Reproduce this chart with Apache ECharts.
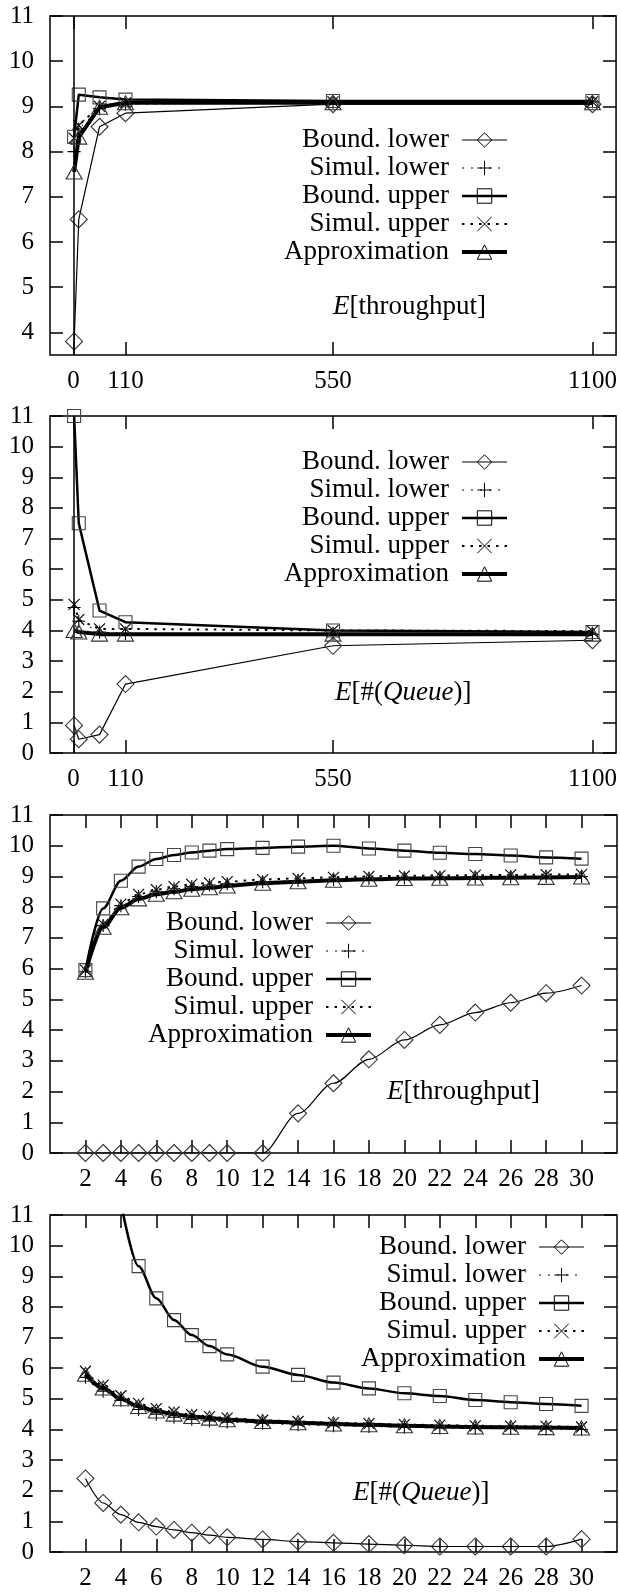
<!DOCTYPE html>
<html>
<head>
<meta charset="utf-8">
<script src="https://cdn.jsdelivr.net/npm/echarts@6/dist/echarts.min.js"></script>
<style>
  html, body { margin: 0; background: #fff; }
  #chart { width: 620px; height: 1595px; }
</style>
</head>
<body>
<div id="chart"></div>
<script>
var names = ['Bound. lower', 'Simul. lower', 'Bound. upper', 'Simul. upper', 'Approximation'];

// x values / ticks
var xBig = [1.1, 11, 55, 110, 550, 1100];
var xBigTicks = [0, 110, 550, 1100];
var xSmall = [2, 3, 4, 5, 6, 7, 8, 9, 10, 12, 14, 16, 18, 20, 22, 24, 26, 28, 30];
var xSmallTicks = [2, 4, 6, 8, 10, 12, 14, 16, 18, 20, 22, 24, 26, 28, 30];
var yTicksThr = [4, 5, 6, 7, 8, 9, 10, 11];
var yTicksAll = [0, 1, 2, 3, 4, 5, 6, 7, 8, 9, 10, 11];

// panel 1: E[throughput], big x
var thrBoundLow1 = [3.8, 6.5, 8.55, 8.85, 9.05, 9.05];
var thrSimLow1 = [8.0, 8.5, 8.95, 9.05, 9.08, 9.1];
var thrBoundUp1 = [8.33, 9.26, 9.2, 9.15, 9.12, 9.12];
var thrSimUp1 = [8.3, 8.58, 9.0, 9.08, 9.1, 9.1];
var thrApprox1 = [7.55, 8.32, 8.98, 9.08, 9.08, 9.08];

// panel 2: E[#(Queue)], big x
var qBoundLow2 = [0.9, 0.45, 0.6, 2.25, 3.5, 3.68];
var qSimLow2 = [4.75, 4.3, 3.95, 3.9, 3.88, 3.88];
var qBoundUp2 = [11.0, 7.5, 4.65, 4.27, 4.0, 3.95];
var qSimUp2 = [4.85, 4.35, 4.05, 4.05, 4.0, 3.98];
var qApprox2 = [4.0, 3.95, 3.88, 3.88, 3.88, 3.88];

// panel 3: E[throughput], small x
var thrBoundLow3 = [0, 0, 0, 0, 0, 0, 0, 0, 0, 0, 1.29, 2.27, 3.05, 3.68, 4.17, 4.57, 4.89, 5.2, 5.45];
var thrSimLow3 = [5.9, 7.4, 8.05, 8.35, 8.5, 8.6, 8.67, 8.72, 8.76, 8.83, 8.87, 8.9, 8.93, 8.95, 8.96, 8.97, 8.98, 8.99, 9.0];
var thrBoundUp3 = [5.95, 7.96, 8.86, 9.32, 9.57, 9.7, 9.78, 9.84, 9.89, 9.93, 9.97, 10.0, 9.91, 9.84, 9.77, 9.73, 9.68, 9.62, 9.58];
var thrSimUp3 = [5.95, 7.45, 8.1, 8.42, 8.57, 8.67, 8.74, 8.79, 8.83, 8.9, 8.94, 8.97, 9.0, 9.02, 9.03, 9.04, 9.05, 9.06, 9.07];
var thrApprox3 = [5.88, 7.35, 7.98, 8.27, 8.42, 8.5, 8.58, 8.63, 8.69, 8.78, 8.83, 8.88, 8.91, 8.93, 8.94, 8.95, 8.96, 8.97, 8.98];

// panel 4: E[#(Queue)], small x
var qBoundLow4 = [2.4, 1.6, 1.22, 0.97, 0.83, 0.72, 0.63, 0.55, 0.48, 0.41, 0.34, 0.3, 0.26, 0.22, 0.18, 0.18, 0.18, 0.18, 0.42];
var qSimLow4 = [5.7, 5.25, 4.95, 4.65, 4.5, 4.4, 4.33, 4.28, 4.24, 4.2, 4.15, 4.12, 4.1, 4.07, 4.05, 4.04, 4.03, 4.02, 4.0];
var qBoundUp4 = [null, null, 11.4, 9.33, 8.28, 7.57, 7.08, 6.72, 6.45, 6.05, 5.78, 5.53, 5.34, 5.18, 5.09, 4.96, 4.89, 4.83, 4.77];
var qSimUp4 = [5.9, 5.45, 5.1, 4.85, 4.68, 4.57, 4.48, 4.42, 4.37, 4.3, 4.26, 4.22, 4.19, 4.16, 4.14, 4.12, 4.11, 4.1, 4.08];
var qApprox4 = [5.8, 5.35, 5.0, 4.75, 4.6, 4.5, 4.42, 4.37, 4.32, 4.26, 4.22, 4.18, 4.15, 4.12, 4.1, 4.08, 4.07, 4.06, 4.05];

var SERIF = '"Liberation Serif", "DejaVu Serif", serif';

var panels = [
  { x: xBig, ys: [thrBoundLow1, thrSimLow1, thrBoundUp1, thrSimUp1, thrApprox1],
    xMin: -50, xMax: 1150, xTicks: xBigTicks, yMin: 3.5, yTicks: yTicksThr,
    top: 16, height: 339, legendRight: 111, legendTop: 126,
    label: '{i|E}[throughput]', labelLeft: 333, labelTop: 293, zero: true, smooth: false },
  { x: xBig, ys: [qBoundLow2, qSimLow2, qBoundUp2, qSimUp2, qApprox2],
    xMin: -50, xMax: 1150, xTicks: xBigTicks, yMin: 0, yTicks: yTicksAll,
    top: 416, height: 337, legendRight: 111, legendTop: 448,
    label: '{i|E}[#({i|Queue})]', labelLeft: 335, labelTop: 679, zero: true, smooth: false },
  { x: xSmall, ys: [thrBoundLow3, thrSimLow3, thrBoundUp3, thrSimUp3, thrApprox3],
    xMin: 0, xMax: 32, xTicks: xSmallTicks, yMin: 0, yTicks: yTicksAll,
    top: 815, height: 338, legendRight: 247, legendTop: 909,
    label: '{i|E}[throughput]', labelLeft: 387, labelTop: 1078, zero: false, smooth: true },
  { x: xSmall, ys: [qBoundLow4, qSimLow4, qBoundUp4, qSimUp4, qApprox4],
    xMin: 0, xMax: 32, xTicks: xSmallTicks, yMin: 0, yTicks: yTicksAll,
    top: 1215, height: 337, legendRight: 34, legendTop: 1233,
    label: '{i|E}[#({i|Queue})]', labelLeft: 353, labelTop: 1479, zero: false, smooth: true }
];

var looks = [
  { symbol: 'path://M0,-1L1,0L0,1L-1,0Z', size: 17, width: 1.2, type: 'solid', sc: '#333' },
  { symbol: 'path://M0,-1L0,1M-1,0L1,0', size: 13, width: 1, type: [2, 7], sc: '#000' },
  { symbol: 'path://M-1,-1L1,-1L1,1L-1,1Z', size: 13, width: 2.5, type: 'solid', sc: '#444' },
  { symbol: 'path://M-1,-1L1,1M1,-1L-1,1', size: 11, width: 2, type: [2.5, 6], sc: '#000' },
  { symbol: 'path://M0,-1L1,0.8L-1,0.8Z', size: [16, 14], width: 4, type: 'solid', sc: '#333' }
];

var tickStyle = { color: '#000', width: 1.5 };
var plain = function (v) { return String(v); };
var grids = [], xAxes = [], yAxes = [], series = [], legends = [], titles = [];

panels.forEach(function (p, i) {
  grids.push({ left: 50, right: 3, top: p.top, height: p.height, show: true,
    borderColor: '#000', borderWidth: 1.5, backgroundColor: 'transparent' });

  ['bottom', 'top'].forEach(function (pos) {
    xAxes.push({
      gridIndex: i, type: 'value', position: pos, min: p.xMin, max: p.xMax,
      axisLine: { show: false, onZero: false },
      axisTick: { inside: true, length: 13, lineStyle: tickStyle, customValues: p.xTicks },
      axisLabel: { show: pos === 'bottom', customValues: p.xTicks, formatter: plain, color: '#000',
        fontFamily: SERIF, fontSize: 25, margin: 14 },
      splitLine: { show: false }
    });
  });
  ['left', 'right'].forEach(function (pos) {
    yAxes.push({
      gridIndex: i, type: 'value', position: pos, min: p.yMin, max: 11,
      axisLine: { show: false, onZero: false },
      axisTick: { inside: true, length: 13, lineStyle: tickStyle, customValues: p.yTicks },
      axisLabel: { show: pos === 'left', customValues: p.yTicks, formatter: plain, color: '#000',
        fontFamily: SERIF, fontSize: 25, margin: 16 },
      splitLine: { show: false }
    });
  });

  p.ys.forEach(function (vals, k) {
    var lk = looks[k];
    var data = [];
    vals.forEach(function (v, j) { if (v !== null) data.push([p.x[j], v]); });
    var s = {
      name: names[k], type: 'line', xAxisIndex: 2 * i, yAxisIndex: 2 * i,
      data: data, symbol: lk.symbol, symbolSize: lk.size,
      smooth: p.smooth ? 0.3 : false, smoothMonotone: 'x',
      lineStyle: { color: '#000', width: lk.width, type: lk.type },
      itemStyle: { color: 'transparent', borderColor: lk.sc, borderWidth: 1.1 },
      emphasis: { disabled: true }, animation: false, z: 2 + k
    };
    if (p.zero && k === 0) {
      s.markLine = { silent: true, symbol: 'none', label: { show: false }, animation: false,
        lineStyle: { color: '#000', width: 1.5, type: 'solid' }, data: [{ xAxis: 0 }] };
    }
    series.push(s);
  });

  legends.push({
    orient: 'vertical', align: 'right', right: p.legendRight, top: p.legendTop,
    padding: 0, itemGap: 0, itemWidth: 45, itemHeight: 18, selectedMode: false,
    data: names,
    textStyle: { fontFamily: SERIF, fontSize: 27, color: '#000', lineHeight: 28, padding: [0, 8, 0, 0] },
    itemStyle: { color: 'transparent', borderColor: '#000', borderWidth: 1 },
    lineStyle: { width: 'inherit' }
  });

  titles.push({
    text: p.label, left: p.labelLeft, top: p.labelTop, padding: 0,
    textStyle: { fontFamily: SERIF, fontSize: 27, fontWeight: 'normal', color: '#000', lineHeight: 28,
      rich: { i: { fontFamily: SERIF, fontSize: 27, fontStyle: 'italic', color: '#000', lineHeight: 28 } } }
  });
});

var chart = echarts.init(document.getElementById('chart'));
chart.setOption({
  animation: false,
  backgroundColor: '#fff',
  title: titles,
  legend: legends,
  grid: grids,
  xAxis: xAxes,
  yAxis: yAxes,
  series: series
});
</script>
</body>
</html>
